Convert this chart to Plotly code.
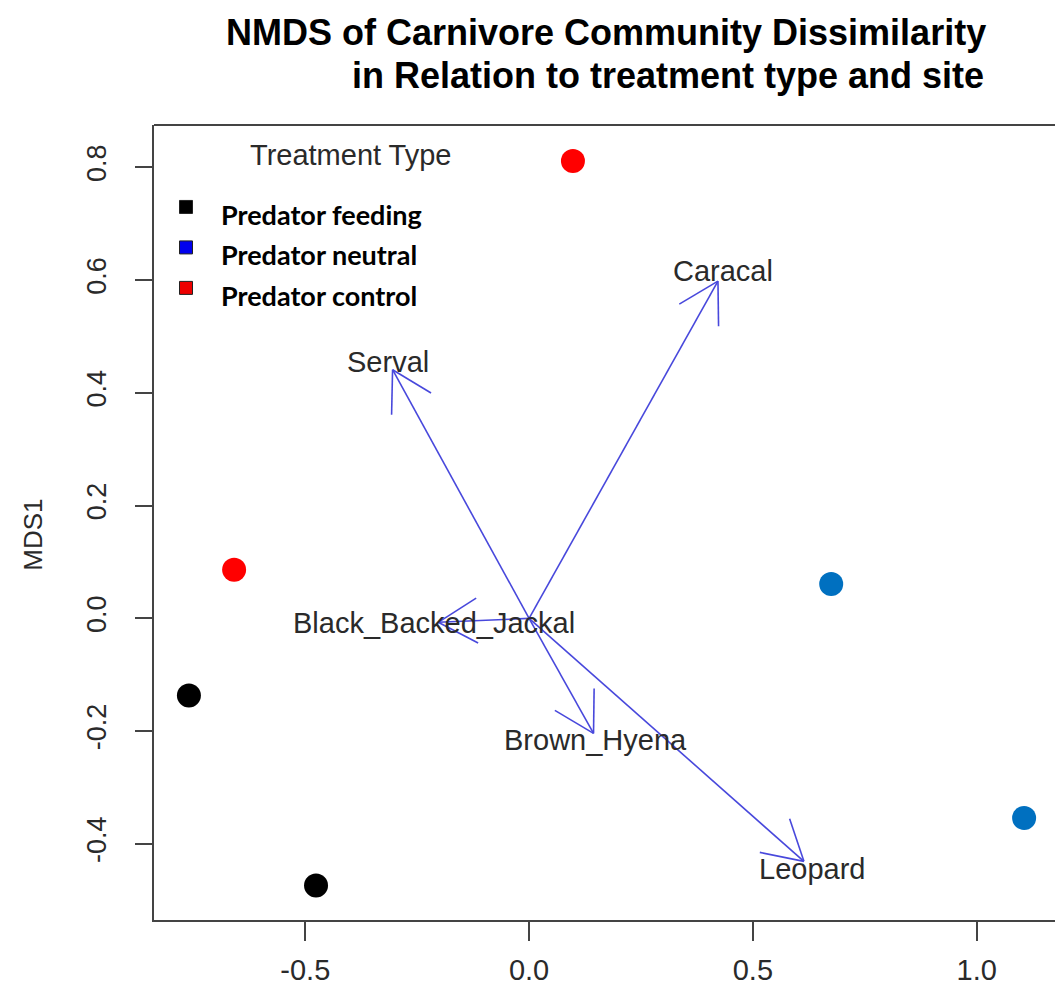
import numpy as np
import plotly.graph_objects as go

# ---------------- data ----------------
site_x = [0.098, -0.659, -0.760, -0.476, 0.675, 1.106]
site_y = [0.811, 0.086, -0.137, -0.474, 0.061, -0.354]
site_treat = ["Predator control", "Predator control", "Predator feeding",
              "Predator feeding", "Predator neutral", "Predator neutral"]

species = ["Caracal", "Serval", "Black_Backed_Jackal", "Brown_Hyena", "Leopard"]
species_x = [0.422, -0.305, -0.203, 0.144, 0.614]
species_y = [0.598, 0.441, -0.007, -0.204, -0.431]

legend_title = "Treatment Type"
legend_labels = ["Predator feeding", "Predator neutral", "Predator control"]

x_ticks = [-0.5, 0.0, 0.5, 1.0]
x_ticklabels = ["-0.5", "0.0", "0.5", "1.0"]
y_ticks = [-0.4, -0.2, 0.0, 0.2, 0.4, 0.6, 0.8]
y_ticklabels = ["-0.4", "-0.2", "0.0", "0.2", "0.4", "0.6", "0.8"]

title_lines = ["NMDS of Carnivore Community Dissimilarity",
               "in Relation to treatment type and site"]
y_title = "MDS1"

# ---------------- style ----------------
W, H = 1055, 988
ML, MR, MT, MB = 154, 0, 125, 67.5
XR = [-0.838, 1.175]
YR = [-0.535, 0.875]
point_colors = {"Predator feeding": "#000000", "Predator neutral": "#0070C0",
                "Predator control": "#FF0000"}
legend_sq_colors = ["#000000", "#0000EE", "#EE0000"]
arrow_color = "#4848DC"
axis_color = "#444444"
text_color = "#2a2a2a"
label_shift = [(5, -10), (-5, -8), (-4, 1), (2, 7), (8, 8)]
head_len = 45.0
head_ang = np.deg2rad(30)

plot_w = W - ML - MR
plot_h = H - MT - MB
px_x = plot_w / (XR[1] - XR[0])
px_y = plot_h / (YR[1] - YR[0])

fig = go.Figure()

# arrows (shaft + open V heads)
ax_, ay_ = [], []
for tx, ty in zip(species_x, species_y):
    ax_ += [0, tx, None]
    ay_ += [0, ty, None]
    dx, dy = tx * px_x, ty * px_y
    n = np.hypot(dx, dy)
    ux, uy = -dx / n, -dy / n
    for s in (1, -1):
        c, si = np.cos(s * head_ang), np.sin(s * head_ang)
        bx = ux * c - uy * si
        by = ux * si + uy * c
        ax_ += [tx, tx + head_len * bx / px_x, None]
        ay_ += [ty, ty + head_len * by / px_y, None]
fig.add_trace(go.Scatter(x=ax_, y=ay_, mode="lines",
                         line=dict(color=arrow_color, width=1.6),
                         hoverinfo="skip", showlegend=False))

# site points
for t in ["Predator feeding", "Predator neutral", "Predator control"]:
    xs = [x for x, tt in zip(site_x, site_treat) if tt == t]
    ys = [y for y, tt in zip(site_y, site_treat) if tt == t]
    fig.add_trace(go.Scatter(x=xs, y=ys, mode="markers", name=t,
                             marker=dict(color=point_colors[t], size=24,
                                         line=dict(width=0)),
                             showlegend=False))

annotations = []
# species labels
for name, tx, ty, (sx, sy) in zip(species, species_x, species_y, label_shift):
    annotations.append(dict(x=tx, y=ty, xref="x", yref="y", text=name,
                            showarrow=False, xanchor="center", yanchor="middle",
                            xshift=sx, yshift=-sy,
                            font=dict(family="Liberation Sans, Arial", size=29,
                                      color=text_color)))


def px2paper_x(px):
    return (px - ML) / plot_w


def px2paper_y(py):
    return (H - MB - py) / plot_h


# title
for line, cx, cy in zip(title_lines, [606, 668], [32, 75]):
    annotations.append(dict(x=px2paper_x(cx), y=px2paper_y(cy), xref="paper",
                            yref="paper", text="<b>%s</b>" % line, showarrow=False,
                            xanchor="center", yanchor="middle",
                            font=dict(family="Liberation Sans, Arial", size=36,
                                      color="#000000")))

# y title
annotations.append(dict(x=px2paper_x(33), y=px2paper_y(535), xref="paper",
                        yref="paper", text=y_title, showarrow=False,
                        textangle=-90, xanchor="center", yanchor="middle",
                        font=dict(family="Liberation Sans, Arial", size=26,
                                  color=text_color)))

# legend
annotations.append(dict(x=px2paper_x(351), y=px2paper_y(155), xref="paper",
                        yref="paper", text=legend_title, showarrow=False,
                        xanchor="center", yanchor="middle",
                        font=dict(family="Liberation Sans, Arial", size=29,
                                  color=text_color)))
shapes = []
for i, (lab, col) in enumerate(zip(legend_labels, legend_sq_colors)):
    cy = 207 + i * 40.5
    shapes.append(dict(type="rect", xref="paper", yref="paper",
                       x0=px2paper_x(186 - 6.5), x1=px2paper_x(186 + 6.5),
                       y0=px2paper_y(cy - 6.5), y1=px2paper_y(cy + 6.5),
                       fillcolor=col, line=dict(color="#222222", width=1)))
    annotations.append(dict(x=px2paper_x(219), y=px2paper_y(cy + 7.5),
                            xref="paper", yref="paper", text="<b>%s</b>" % lab,
                            showarrow=False, xanchor="left", yanchor="middle",
                            font=dict(family="Lato, Open Sans", size=27,
                                      color="#000000")))

# top border
shapes.append(dict(type="line", xref="paper", yref="paper", x0=0, x1=1,
                   y0=1, y1=1, line=dict(color=axis_color, width=2)))

fig.update_layout(
    width=W, height=H,
    margin=dict(l=ML, r=MR, t=MT, b=MB, autoexpand=False),
    paper_bgcolor="white", plot_bgcolor="white",
    annotations=annotations, shapes=shapes,
    xaxis=dict(range=XR, showgrid=False, zeroline=False, showline=True,
               automargin=False,
               linecolor=axis_color, linewidth=2, ticks="outside", ticklen=19,
               tickwidth=2, tickcolor=axis_color, tickvals=x_ticks,
               ticktext=x_ticklabels, ticklabelstandoff=4,
               tickfont=dict(family="Liberation Sans, Arial", size=29,
                             color=text_color)),
    yaxis=dict(range=YR, showgrid=False, zeroline=False, showline=True,
               automargin=False,
               linecolor=axis_color, linewidth=2, ticks="outside", ticklen=17,
               tickwidth=2, tickcolor=axis_color, tickvals=y_ticks,
               ticktext=y_ticklabels, tickangle=-90, ticklabelstandoff=18,
               tickfont=dict(family="Liberation Sans, Arial", size=27,
                             color=text_color)),
)

fig.write_html("out.html")
